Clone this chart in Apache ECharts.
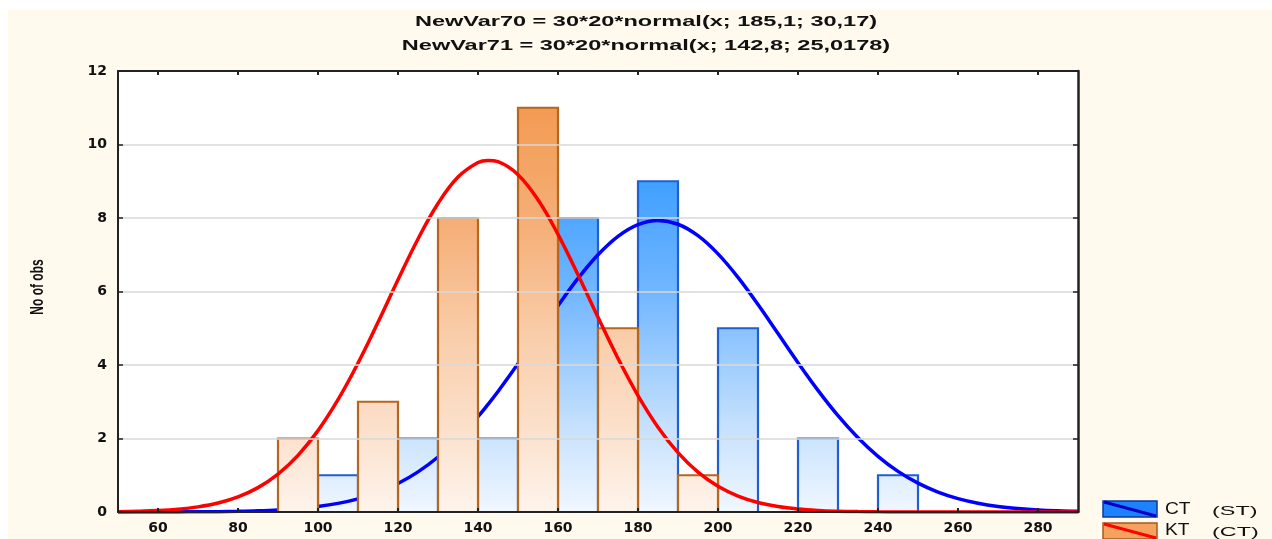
<!DOCTYPE html>
<html>
<head>
<meta charset="utf-8">
<script src="https://cdn.jsdelivr.net/npm/echarts@6/dist/echarts.min.js"></script>
<style>
html,body{margin:0;padding:0;background:#fff;width:1272px;height:539px;overflow:hidden;}
#bg{position:absolute;left:8px;top:10px;width:1264px;height:529px;background:#FFF9EE;}
#chart{position:absolute;left:0;top:0;width:1272px;height:539px;}
</style>
</head>
<body>
<div id="bg"></div>
<div id="chart"></div>
<script>
// ---- data ----
const titleLines = ['NewVar70 = 30*20*normal(x; 185,1; 30,17)', 'NewVar71 = 30*20*normal(x; 142,8; 25,0178)'];
const yAxisName = 'No of obs';
const xTicks = [60, 80, 100, 120, 140, 160, 180, 200, 220, 240, 260, 280];
const yTicks = [0, 2, 4, 6, 8, 10, 12];
const binWidth = 10;
const ctBinStart = [100, 120, 140, 160, 180, 200, 220, 240];
const ctCounts   = [1, 2, 2, 8, 9, 5, 2, 1];
const ktBinStart = [90, 110, 130, 150, 170, 190];
const ktCounts   = [2, 3, 8, 11, 5, 1];
const curveX = [50,55,60,65,70,75,80,85,90,95,100,105,110,115,120,125,130,135,140,142.5,145,150,155,160,165,170,175,180,185,190,195,200,205,210,215,220,225,230,235,240,245,250,255,260,265,270,275,280,285,290];
const ctCurve = [0.0004,0.0007,0.0015,0.0029,0.0055,0.0102,0.0184,0.0323,0.0552,0.0918,0.149,0.234,0.358,0.534,0.774,1.091,1.497,1.999,2.596,2.928,3.280,4.033,4.823,5.613,6.355,7.000,7.502,7.821,7.934,7.830,7.518,7.023,6.383,5.644,4.856,4.064,3.309,2.621,2.021,1.515,1.105,0.785,0.542,0.364,0.238,0.151,0.094,0.056,0.033,0.019];
const ktCurve = [0.0098,0.0202,0.040,0.076,0.139,0.243,0.410,0.663,1.031,1.542,2.214,3.055,4.051,5.161,6.317,7.429,8.394,9.114,9.509,9.568,9.531,9.179,8.495,7.555,6.455,5.299,4.179,3.167,2.307,1.614,1.085,0.701,0.435,0.260,0.149,0.082,0.043,0.022,0.011,0.005,0.0023,0.001,0.0004,0.0002,0.0001,0,0,0,0,0];
const legendNames = [['CT', '(ST)'], ['KT', '(CT)']];

// ---- styles ----
const blueStops = [
  {offset:0, color:'#2A8CFF'}, {offset:0.25, color:'#40A0FF'}, {offset:0.5, color:'#72B6FF'},
  {offset:0.8, color:'#C4E0FD'}, {offset:1, color:'#F0F7FF'}];
const orangeStops = [
  {offset:0, color:'#F08A38'}, {offset:0.1, color:'#F39C55'}, {offset:0.35, color:'#F5AF78'},
  {offset:0.6, color:'#F9CDAA'}, {offset:0.85, color:'#FCE4D2'}, {offset:1, color:'#FEF4EC'}];

function histData(starts, counts) {
  return starts.map((s, i) => [s, s + binWidth, counts[i]]);
}
function makeRender(stops, stroke) {
  return function (params, api) {
    const p0 = api.coord([api.value(0), api.value(2)]);
    const p1 = api.coord([api.value(1), 0]);
    const top = api.coord([0, 12])[1];
    const bottom = api.coord([0, 0])[1];
    return {
      type: 'rect',
      shape: {x: p0[0], y: p0[1], width: p1[0] - p0[0], height: p1[1] - p0[1]},
      style: {
        fill: new echarts.graphic.LinearGradient(0, top, 0, bottom, stops, true),
        stroke: stroke, lineWidth: 2.2
      }
    };
  };
}

const chart = echarts.init(document.getElementById('chart'), null, {renderer: 'canvas'});
const labelFont = {fontFamily: 'DejaVu Sans', fontSize: 14, fontWeight: 'bold', color: '#111'};

const option = {
  animation: false,
  grid: {left: 118, right: 194, top: 71, bottom: 27, show: true, backgroundColor: '#fff', borderWidth: 0},
  xAxis: [{
    type: 'value', min: 50, max: 290, position: 'bottom', z: 10,
    axisLine: {show: true, onZero: false, lineStyle: {color: '#222', width: 2}},
    axisTick: {show: true, inside: true, length: 4, customValues: xTicks, lineStyle: {color: '#222', width: 2}},
    axisLabel: {show: true, customValues: xTicks, margin: 9, ...labelFont},
    splitLine: {show: false}
  }, {
    type: 'value', min: 50, max: 290, position: 'top', z: 10,
    axisLine: {show: true, onZero: false, lineStyle: {color: '#222', width: 2}},
    axisTick: {show: true, inside: true, length: 4, customValues: xTicks, lineStyle: {color: '#222', width: 2}},
    axisLabel: {show: false},
    splitLine: {show: false}
  }],
  yAxis: [{
    type: 'value', min: 0, max: 12, interval: 2, position: 'left', z: 10,
    axisLine: {show: true, onZero: false, lineStyle: {color: '#222', width: 2}},
    axisTick: {show: true, inside: true, length: 5, lineStyle: {color: '#222', width: 1.5}},
    axisLabel: {show: true, margin: 11, ...labelFont},
    splitLine: {show: true, lineStyle: {color: '#D8D8D8', width: 1.5}}
  }, {
    type: 'value', min: 0, max: 12, interval: 2, position: 'right', z: 10,
    axisLine: {show: true, onZero: false, lineStyle: {color: '#222', width: 2.5}},
    axisTick: {show: true, inside: true, length: 5, lineStyle: {color: '#222', width: 1.5}},
    axisLabel: {show: false},
    splitLine: {show: false}
  }],
  series: [{
    name: 'CT', type: 'custom', z: 2, xAxisIndex: 0, yAxisIndex: 0,
    renderItem: makeRender(blueStops, '#1F5FD0'),
    encode: {x: [0, 1], y: 2},
    data: histData(ctBinStart, ctCounts)
  }, {
    name: 'CT curve', type: 'line', z: 3, smooth: 0.4, symbol: 'none',
    lineStyle: {color: '#0000FF', width: 3.5},
    data: curveX.map((x, i) => [x, ctCurve[i]])
  }, {
    name: 'KT', type: 'custom', z: 4, xAxisIndex: 0, yAxisIndex: 0,
    renderItem: makeRender(orangeStops, '#B5661F'),
    encode: {x: [0, 1], y: 2},
    data: histData(ktBinStart, ktCounts)
  }, {
    name: 'KT curve', type: 'line', z: 5, smooth: 0.4, symbol: 'none',
    lineStyle: {color: '#FF0000', width: 3.5},
    data: curveX.map((x, i) => [x, ktCurve[i]])
  }],
  graphic: [
    {type: 'text', x: 646, y: 22, scaleX: 1.68, z: 20,
     style: {text: titleLines[0], textAlign: 'center', textVerticalAlign: 'middle',
             font: 'bold 14px "Liberation Sans", Arial, sans-serif', fill: '#111'}},
    {type: 'text', x: 646, y: 46, scaleX: 1.68, z: 20,
     style: {text: titleLines[1], textAlign: 'center', textVerticalAlign: 'middle',
             font: 'bold 14px "Liberation Sans", Arial, sans-serif', fill: '#111'}},
    {type: 'text', x: 38, y: 287, rotation: Math.PI / 2, scaleY: 1.6, z: 20,
     style: {text: yAxisName, textAlign: 'center', textVerticalAlign: 'middle',
             font: 'bold 12px "Liberation Sans", Arial, sans-serif', fill: '#111'}},
    // legend 1
    {type: 'rect', z: 20, shape: {x: 1103, y: 501, width: 54, height: 16},
     style: {fill: '#1E82FF', stroke: '#0A3A9A', lineWidth: 1.5}},
    {type: 'line', z: 21, shape: {x1: 1104, y1: 502, x2: 1156, y2: 516},
     style: {stroke: '#0000C8', lineWidth: 3}},
    {type: 'text', z: 20, x: 1165, y: 510, scaleX: 1.2,
     style: {text: legendNames[0][0], textVerticalAlign: 'middle',
             font: '16px "Liberation Sans", Arial, sans-serif', fill: '#111'}},
    {type: 'text', z: 20, x: 1212, y: 511, scaleX: 1.8,
     style: {text: legendNames[0][1], textVerticalAlign: 'middle',
             font: '13px "Liberation Sans", Arial, sans-serif', fill: '#111'}},
    // legend 2
    {type: 'rect', z: 20, shape: {x: 1103, y: 523, width: 54, height: 16},
     style: {fill: '#F5A25E', stroke: '#A85A1E', lineWidth: 1.5}},
    {type: 'line', z: 21, shape: {x1: 1104, y1: 524, x2: 1156, y2: 538},
     style: {stroke: '#FF0000', lineWidth: 3}},
    {type: 'text', z: 20, x: 1165, y: 531, scaleX: 1.2,
     style: {text: legendNames[1][0], textVerticalAlign: 'middle',
             font: '16px "Liberation Sans", Arial, sans-serif', fill: '#111'}},
    {type: 'text', z: 20, x: 1212, y: 532, scaleX: 1.8,
     style: {text: legendNames[1][1], textVerticalAlign: 'middle',
             font: '13px "Liberation Sans", Arial, sans-serif', fill: '#111'}}
  ]
};
chart.setOption(option);
</script>
</body>
</html>
